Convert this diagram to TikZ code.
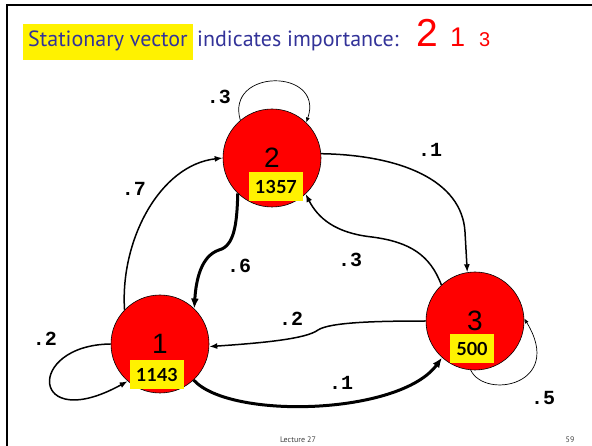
\documentclass[tikz,border=0pt]{standalone}
\usepackage{fontspec}
\setmainfont{Liberation Sans}
\newfontfamily\titlefont{PT Sans}
\newfontfamily\boxfont{Lato}
\newfontfamily\probfont{Liberation Mono}
\usetikzlibrary{arrows.meta, calc, positioning}

\definecolor{titleblue}{RGB}{51,51,153}

\tikzset{
    state/.style={circle, draw, line width=0.6pt, fill=red, minimum size=98pt,
        inner sep=0pt, font=\fontsize{28}{28}\selectfont},
    rank/.style={fill=yellow, inner xsep=6pt, inner ysep=0pt, text height=16pt,
        text depth=3pt, minimum height=29pt, font=\boxfont\bfseries\fontsize{18}{18}\selectfont},
    prob/.style={font=\probfont\bfseries\fontsize{20}{20}\selectfont, inner sep=0pt},
    link/.style={line width=1.5pt, -{Latex[length=8pt,width=6pt]}},
    heavy/.style={line width=3pt, -{Latex[length=10pt,width=8pt]}},
    faint/.style={line width=0.7pt, -{Latex[length=5pt,width=4pt]}}
}

\begin{document}
\begin{tikzpicture}[x=1pt, y=-1pt]

    % === FRAME ===
    \useasboundingbox (0,0) rectangle (592,446);
    \draw[line width=2.2pt] (7,446) -- (7,5) -- (592,5);

    % === TITLE ===
    \node[anchor=base west, fill=yellow, inner xsep=5pt, inner ysep=0pt,
        text height=23pt, text depth=13pt, text=titleblue,
        font=\titlefont\fontsize{22}{22}\selectfont] (title) at (23,47) {Stationary vector};
    \node[anchor=base west, inner sep=0pt, text=titleblue,
        font=\titlefont\fontsize{22}{22}\selectfont] (titlerest) at (197,47) {indicates importance:};
    \node[anchor=base west, inner sep=0pt, red, font=\fontsize{39}{39}\selectfont] (ranka) at (416,47) {2};
    \node[anchor=base west, inner sep=0pt, red, font=\fontsize{27}{27}\selectfont] (rankb) at (450,47) {1};
    \node[anchor=base west, inner sep=0pt, red, font=\fontsize{20}{20}\selectfont] (rankc) at (479,47) {3};

    % === STATES ===
    \node[state] (n2) at (272,158) {2};
    \node[state] (n1) at (160,344) {1};
    \node[state] (n3) at (475,321) {3};

    \node[rank] (b2) at ($(n2)+(4,29)$) {1357};
    \node[rank] (b1) at ($(n1)+(-3,31)$) {1143};
    \node[rank] (b3) at ($(n3)+(-3,28)$) {500};

    % === TRANSITIONS ===
    \draw[faint] (n2.130) .. controls (225,68) and (325,68) .. (n2.46);
    \draw[link] (n2.5) .. controls (400,155) and (462,180) .. (465,232) -- (n3.99);
    \draw[link] (n3.133) .. controls (430,255) and (410,242) .. (372,237)
        .. controls (335,233) and (318,218) .. (n2.-47);
    \draw[heavy] (n2.-134) .. controls (237,225) and (234,246) .. (219,250)
        .. controls (201,256) and (196,280) .. (n1.46);
    \draw[link] (n1.136) .. controls (120,240) and (160,165) .. (n2.180);
    \draw[link] (n3.180) .. controls (380,321) and (330,322) .. (318,330)
        .. controls (306,339) and (262,343) .. (n1.-3);
    \draw[heavy] (n1.-47) .. controls (230,420) and (400,415) .. (n3.-132);
    \draw[link] (n1.180) .. controls (25,345) and (30,435) .. (n1.-131);
    \draw[faint] (n3.-95) .. controls (485,400) and (565,385) .. (n3.3);

    % === PROBABILITIES ===
    \node[prob] (p22) at (219,97) {.3};
    \node[prob] (p23) at (430,150) {.1};
    \node[prob] (p12) at (134,189) {.7};
    \node[prob] (p21) at (239,266) {.6};
    \node[prob] (p32) at (350,260) {.3};
    \node[prob] (p31) at (291,319) {.2};
    \node[prob] (p13) at (341,383) {.1};
    \node[prob] (p11) at (45,339) {.2};
    \node[prob] (p33) at (543,398) {.5};

    % === FOOTER ===
    \node[font=\titlefont\fontsize{8}{8}\selectfont, text=black!75] (lect) at (298,440) {Lecture 27};
    \node[font=\titlefont\fontsize{8}{8}\selectfont, text=black!75] (page) at (570,440) {59};

\end{tikzpicture}
\end{document}
